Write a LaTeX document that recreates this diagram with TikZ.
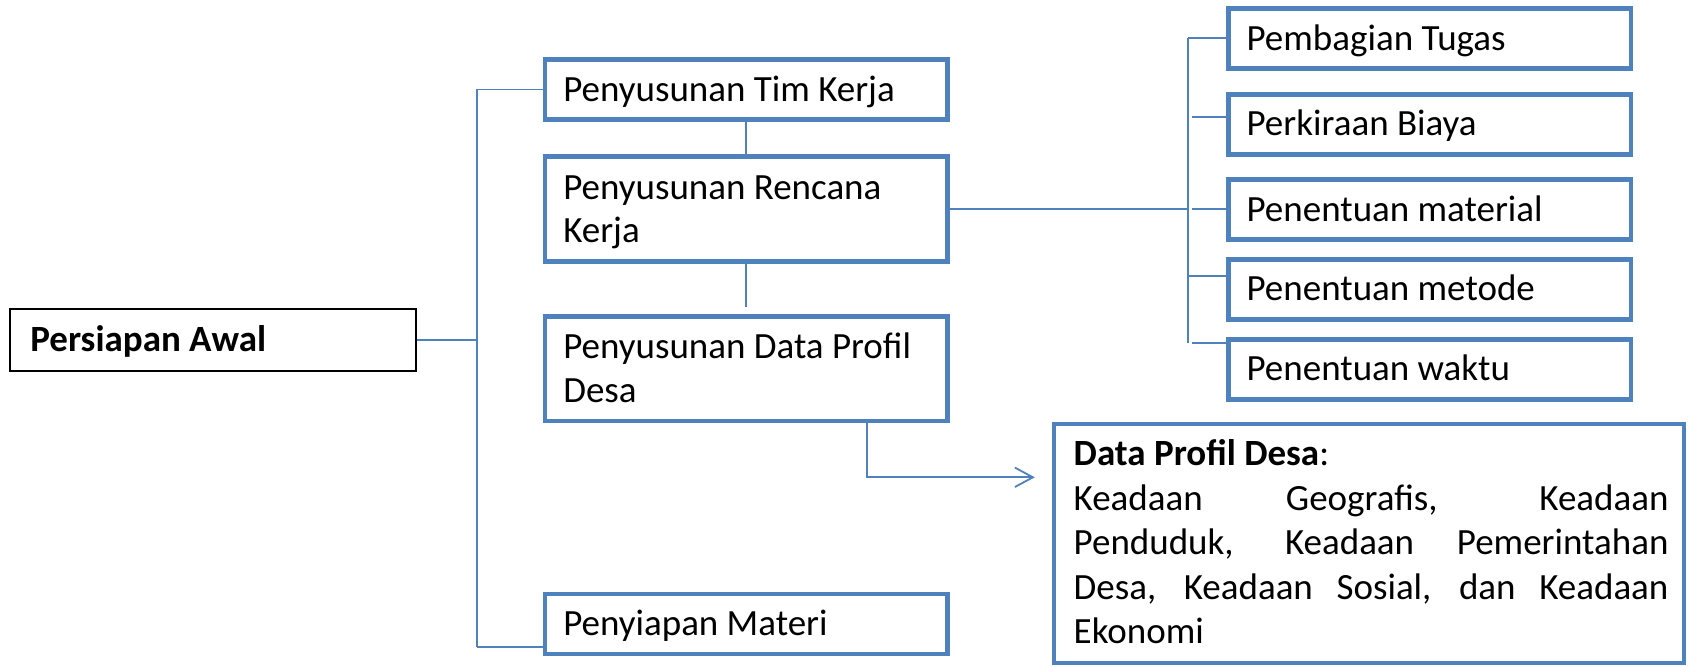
\documentclass[tikz,border=0pt]{standalone}
\usepackage{fontspec}
\setmainfont{Carlito}
\usetikzlibrary{arrows.meta}
\definecolor{ublue}{RGB}{79,129,189}
\newcommand{\bt}[2][183pt]{\parbox[t]{#1}{\raggedright #2}}
\tikzset{
  mainfont/.style={font=\fontsize{18.5}{21.85}\selectfont},
  box/.style={rectangle, draw=ublue, line width=2.35pt, minimum width=201.3pt,
    inner xsep=0pt, inner ysep=0pt, text height=11.7pt, text depth=0pt, mainfont},
  onebox/.style={box, minimum height=30pt},
  twobox/.style={box, minimum height=52.4pt, text depth=21.85pt},
  rootbox/.style={rectangle, draw=black, line width=1pt, minimum width=202.85pt,
    minimum height=31.3pt, inner xsep=0pt, inner ysep=0pt, text height=11.7pt,
    text depth=0pt, mainfont},
  descbox/.style={rectangle, draw=ublue, line width=2.2pt, minimum width=315pt,
    minimum height=119.35pt, inner sep=0pt},
  conn/.style={draw=ublue, line width=0.9pt},
  arr/.style={conn, -{Straight Barb[length=9pt,width=9.7pt,line width=0.9pt]}}
}
\begin{document}
\begin{tikzpicture}[x=0.5pt,y=-0.5pt]
\useasboundingbox[fill=white] (0,0) rectangle (1688,667);

% left column
\node[rootbox] (pa) at (213.2,340) {\bt[182.85pt]{\textbf{Persiapan Awal}}};
\node[onebox] (tk) at (746.3,89.5) {\bt{Penyusunan Tim Kerja}};
\node[twobox] (rk) at (746.3,209.2) {\bt{Penyusunan Rencana\\Kerja}};
\node[twobox] (dp) at (746.3,368.7) {\bt{Penyusunan Data Profil\\Desa}};
\node[onebox] (pm) at (746.3,623.9) {\bt{Penyiapan Materi}};

% right column
\node[onebox] (pt) at (1429.6,38.4) {\bt{Pembagian Tugas}};
\node[onebox] (pb) at (1429.6,124.2) {\bt{Perkiraan Biaya}};
\node[onebox] (pmat) at (1429.6,209.5) {\bt{Penentuan material}};
\node[onebox] (pmet) at (1429.6,289.2) {\bt{Penentuan metode}};
\node[onebox] (pw) at (1429.6,369.2) {\bt{Penentuan waktu}};

% description box
\node[descbox] (desc) at (1369,543.4) {};
\node[anchor=base west, inner sep=0pt, font=\fontsize{18.5}{22.3}\selectfont] (desctxt) at (1073.3,465.5)
  {\parbox[t]{297.35pt}{\textbf{Data Profil Desa}:\\
   \makebox[\linewidth][s]{Keadaan Geografis, Keadaan}\\
   \makebox[\linewidth][s]{Penduduk, Keadaan Pemerintahan}\\
   \makebox[\linewidth][s]{Desa, Keadaan Sosial, dan Keadaan}\\
   Ekonomi}};

% left bus
\coordinate (lbtop) at (476.7,89.5);
\coordinate (lbbot) at (476.7,646.7);
\draw[conn] (lbtop) -- (lbbot);
\draw[conn] (tk.west) -- (tk.west -| lbtop);
\draw[conn] (pa.east) -- (pa.east -| lbtop);
\draw[conn] (lbbot) -- (lbbot -| pm.west);

% vertical links
\draw[conn] (tk.south) -- (rk.north);
\coordinate (rkend) at (746.3,306.7);
\draw[conn] (rk.south) -- (rkend);

% right bus
\coordinate (rbtop) at (1187.7,38.3);
\coordinate (rbbot) at (1187.7,342.7);
\draw[conn] (rbtop) -- (rbbot);
\draw[conn] (rk.east) -- (rk.east -| rbtop);
\draw[conn] (rbtop) -- (rbtop -| pt.west);
\coordinate (s2) at (1191.7,116.7);
\draw[conn] (s2) -- (s2 -| pb.west);
\coordinate (s3) at (1191.7,209.3);
\draw[conn] (s3) -- (s3 -| pmat.west);
\coordinate (s4) at (1187.7,275.7);
\draw[conn] (s4) -- (s4 -| pmet.west);
\coordinate (s5) at (1191.7,342.7);
\draw[conn] (s5) -- (s5 -| pw.west);

% arrow to description
\coordinate (ac) at (866.7,477.3);
\draw[arr, shorten >=8.5pt] (dp.south -| ac) -- (ac) -- (ac -| desc.west);
\end{tikzpicture}
\end{document}
